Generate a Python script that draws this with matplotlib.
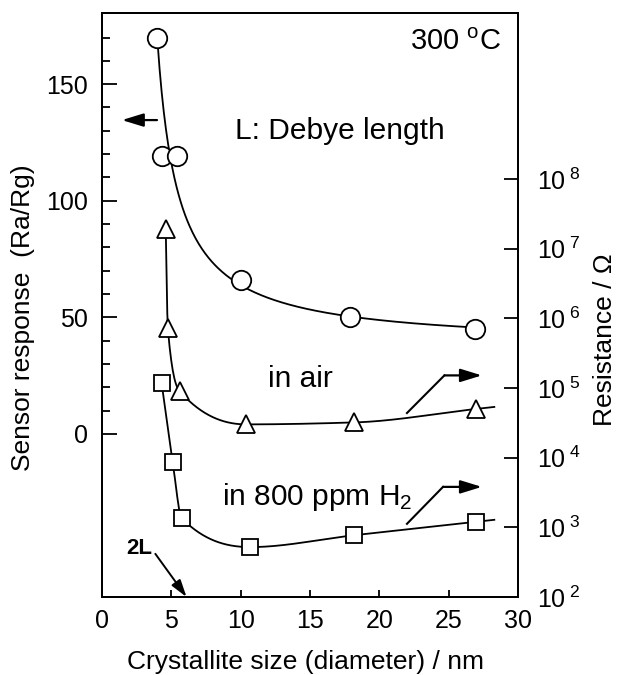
import numpy as np
import matplotlib
matplotlib.use("Agg")
import matplotlib.pyplot as plt
from matplotlib.ticker import FixedLocator, NullLocator

plt.rcParams['font.family'] = ['Liberation Sans', 'DejaVu Sans']
plt.rcParams['mathtext.fontset'] = 'custom'
plt.rcParams['mathtext.rm'] = 'Liberation Sans'
plt.rcParams['mathtext.it'] = 'Liberation Sans:italic'

# sensor response (left axis, circles)
size_resp = [4.0, 4.3, 5.4, 10.0, 17.9, 26.9]
resp = [170, 119, 119, 66, 50, 45]

# resistance in air (right axis, triangles)
size_air = [4.6, 4.75, 5.6, 10.4, 18.2, 27.0]
r_air = [1.9e7, 7.2e5, 9.0e4, 3.0e4, 3.2e4, 5.0e4]

# resistance in 800 ppm H2 (right axis, squares)
size_h2 = [4.3, 5.1, 5.75, 10.7, 18.2, 27.0]
r_h2 = [1.18e5, 8.7e3, 1.35e3, 520, 770, 1.2e3]

xticks = [0, 5, 10, 15, 20, 25, 30]
lticks = [0, 50, 100, 150]
rticks = [1e2, 1e3, 1e4, 1e5, 1e6, 1e7, 1e8]


def pchip(x, y, xn):
    # monotone cubic (Fritsch-Carlson) through the points
    x = np.asarray(x, float)
    y = np.asarray(y, float)
    h = np.diff(x)
    d = np.diff(y) / h
    m = np.zeros_like(y)
    for k in range(1, len(x) - 1):
        if d[k - 1] * d[k] > 0:
            w1 = 2 * h[k] + h[k - 1]
            w2 = h[k] + 2 * h[k - 1]
            m[k] = (w1 + w2) / (w1 / d[k - 1] + w2 / d[k])
    m[0] = d[0]
    m[-1] = d[-1]
    i = np.clip(np.searchsorted(x, xn) - 1, 0, len(x) - 2)
    t = (xn - x[i]) / h[i]
    h00 = 2 * t**3 - 3 * t**2 + 1
    h10 = t**3 - 2 * t**2 + t
    h01 = -2 * t**3 + 3 * t**2
    h11 = t**3 - t**2
    return h00 * y[i] + h10 * h[i] * m[i] + h01 * y[i + 1] + h11 * h[i] * m[i + 1]


def smooth_log(ax, xs, ys, ext=1.3, **kw):
    ly = np.log10(ys)
    xn = np.linspace(xs[0], xs[-1], 400)
    yn = pchip(xs, ly, xn)
    # short continuation past the last point
    slope = (ly[-1] - ly[-2]) / (xs[-1] - xs[-2])
    xn = np.append(xn, xs[-1] + ext)
    yn = np.append(yn, ly[-1] + slope * ext)
    ax.plot(xn, 10 ** yn, **kw)


fig = plt.figure(figsize=(6.18, 6.75), dpi=100)
ax = fig.add_axes([0.165, 0.1156, 0.673, 0.865])
ax2 = ax.twinx()

ax.set_xlim(0, 30)
ax.set_ylim(-70, 180.5)
ax2.set_yscale('log')
ax2.set_ylim(1e2, 10 ** 10.38)

lw = 1.3
for a in (ax, ax2):
    for s in a.spines.values():
        s.set_linewidth(1.4)

# circles: hyperbolic fit y = a + b/(x - c); the two overlapping points
# at equal response are merged so the curve runs between them
fx = np.array([4.0, (4.3 + 5.4) / 2, 10.0, 17.9, 26.9])
fy = np.array([170, 119, 66, 50, 45])
c0 = 2.5
b, a0 = np.polyfit(1 / (fx - c0), fy, 1)
xf = np.linspace(size_resp[0], size_resp[-1], 300)
ax.plot(xf, a0 + b / (xf - c0), color='black', lw=lw)
ax.plot(size_resp, resp, 'o', ms=14, mfc='white', mec='black', mew=1.3)

smooth_log(ax2, size_air, r_air, color='black', lw=lw)
ax2.plot(size_air, r_air, '^', ms=13, mfc='white', mec='black', mew=1.3)
smooth_log(ax2, size_h2, r_h2, color='black', lw=lw)
ax2.plot(size_h2, r_h2, 's', ms=12, mfc='white', mec='black', mew=1.3)

# ticks
ax.xaxis.set_major_locator(FixedLocator(xticks))
ax.xaxis.set_minor_locator(NullLocator())
ax.yaxis.set_major_locator(FixedLocator(lticks))
ax.yaxis.set_minor_locator(FixedLocator([v for v in range(10, 180, 10) if v % 50]))
ax.tick_params(axis='x', direction='in', length=5, width=1.3, labelsize=18, pad=9)
ax.tick_params(axis='y', which='major', direction='in', length=11, width=1.3,
               labelsize=18, pad=10)
ax.tick_params(axis='y', which='minor', direction='in', length=6, width=1.3)

ax2.yaxis.set_major_locator(FixedLocator(rticks))
ax2.yaxis.set_minor_locator(NullLocator())
ax2.set_yticklabels([r'10$^{\ %d}$' % int(np.log10(v)) for v in rticks])
ax2.tick_params(axis='y', direction='in', length=10, width=1.3, labelsize=18, pad=14)

ax.set_xlabel('Crystallite size (diameter) / nm', fontsize=19)
ax.xaxis.set_label_coords(0.49, -0.091)
ax.set_ylabel('Sensor response  (Ra/Rg)', fontsize=19)
ax.yaxis.set_label_coords(-0.16, 0.478)
ax2.set_ylabel('Resistance / \u03a9', fontsize=19)
ax2.yaxis.set_label_coords(1.18, 0.44)

# annotations
ax.text(28.8, 168, r'300 $^{\rm o}$C', fontsize=21, ha='right', va='center')
ax.text(9.6, 130, 'L: Debye length', fontsize=21.5, ha='left', va='center')
ax.text(12.0, 23.6, 'in air', fontsize=21.5, ha='left', va='center')
ax.text(8.65, -27, r'in 800 ppm H$_2$', fontsize=21.5, ha='left', va='center')
ax.text(1.75, -49, '2L', fontsize=16, fontweight='bold', ha='left', va='center')

arrow = dict(arrowstyle='-|>,head_length=0.65,head_width=0.2', color='black',
             lw=1.6, mutation_scale=20, shrinkA=0, shrinkB=0)
ax.annotate('', xy=(1.44, 134.6), xytext=(3.97, 134.6), arrowprops=arrow)
ax.annotate('', xy=(6.1, -70), xytext=(3.85, -51.5),
            arrowprops=dict(arrowstyle='-|>,head_length=0.65,head_width=0.2',
                            color='black', lw=1.4, mutation_scale=16,
                            shrinkA=0, shrinkB=0))

# bent arrows pointing to the right axis
ax2.plot([22.0, 24.7], [10 ** 4.64, 10 ** 5.18], color='black', lw=1.5)
ax2.annotate('', xy=(27.4, 10 ** 5.18), xytext=(24.7, 10 ** 5.18), arrowprops=arrow)
ax2.plot([22.0, 24.6], [10 ** 3.05, 10 ** 3.58], color='black', lw=1.5)
ax2.annotate('', xy=(27.4, 10 ** 3.58), xytext=(24.6, 10 ** 3.58), arrowprops=arrow)

fig.savefig('out.png', dpi=100)
